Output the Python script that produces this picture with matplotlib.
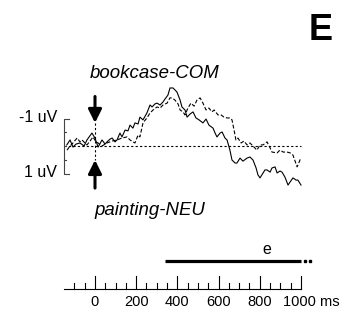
import matplotlib
matplotlib.use('Agg')
import matplotlib.pyplot as plt

# ERP waveforms (ms, uV; negative plotted up)
t_solid = [-137, -121, -107, -92, -73, -53, -39, -15, 0, 15, 34, 49, 58, 73, 83, 97, 107, 121, 131, 146,
           160, 170, 184, 194, 209, 218, 233, 252, 267, 277, 291, 301, 316, 330, 340, 354, 364, 379, 388, 398,
           413, 422, 437, 447, 461, 476, 490, 505, 524, 539, 553, 573, 583, 592, 607, 617, 631, 641, 655, 665,
           680, 689, 704, 718, 738, 752, 767, 782, 791, 801, 816, 825, 835, 850, 859, 874, 884, 898, 908, 922,
           937, 947, 961, 976, 985, 1000]
v_solid = [-0.04, -0.22, 0.04, -0.07, -0.11, 0.0, -0.22, -0.47, -0.29, 0.04, -0.22, -0.07, -0.15, -0.25, -0.29, -0.15, -0.22, -0.47, -0.33, -0.58,
           -0.55, -0.76, -0.65, -0.84, -0.80, -1.05, -0.95, -1.20, -1.49, -1.42, -1.53, -1.56, -1.49, -1.60, -1.71, -1.85, -2.11, -2.11, -2.04, -1.96,
           -1.67, -1.42, -1.31, -1.05, -1.16, -1.24, -1.02, -0.95, -0.84, -0.98, -0.76, -0.65, -0.47, -0.33, -0.47, -0.51, -0.29, -0.22, 0.15, 0.51,
           0.62, 0.62, 0.44, 0.55, 0.44, 0.40, 0.51, 0.80, 1.05, 1.16, 0.98, 0.87, 0.87, 0.95, 0.80, 0.76, 0.98, 0.91, 0.95, 1.13,
           1.42, 1.31, 1.16, 1.24, 1.24, 1.42]

t_dash = [-136, -121, -107, -87, -73, -63, -49, -39, -24, -10, 5, 15, 34, 58, 83, 107, 131, 155, 170, 184,
          194, 209, 218, 233, 252, 267, 282, 301, 316, 330, 350, 364, 374, 388, 403, 413, 427, 437, 451, 466,
          481, 495, 510, 524, 539, 553, 568, 578, 597, 612, 626, 641, 655, 665, 675, 684, 694, 709, 723, 738,
          752, 767, 786, 801, 816, 835, 850, 859, 884, 898, 913, 932, 947, 961, 981, 995, 1000]
v_dash = [0.15, 0.0, -0.11, -0.29, -0.15, -0.22, -0.11, -0.04, -0.18, -0.33, -0.15, -0.11, 0.0, -0.11, -0.18, -0.22, -0.29, -0.33, -0.22, -0.15,
          -0.11, -0.40, -0.33, -0.84, -1.02, -1.20, -1.31, -1.42, -1.38, -1.49, -1.56, -1.75, -1.75, -1.67, -1.53, -1.31, -1.24, -1.13, -1.38, -1.56,
          -1.45, -1.67, -1.75, -1.56, -1.31, -1.38, -1.24, -1.31, -1.13, -1.13, -1.05, -1.02, -1.02, -0.95, -0.58, -0.22, -0.29, -0.11, -0.18, -0.04,
          -0.11, 0.0, 0.15, -0.04, -0.04, -0.15, 0.07, 0.22, 0.25, 0.15, 0.22, 0.22, 0.25, 0.33, 0.76, 0.51, 0.44]

major_ticks = [0, 200, 400, 600, 800, 1000]
minor_ticks = [-100, -50, 50, 100, 150, 250, 300, 350, 450, 500, 550, 650, 700, 750, 850, 900, 950]
tick_labels = ['0', '200', '400', '600', '800', '1000 ms']
sig_start, sig_end = 340, 1000
sig_label = 'e'

W, H = 347, 319
fig = plt.figure(figsize=(W / 100, H / 100), dpi=100)

# time mapping: 0 ms at x=95 px, 0.206 px per ms
x0, pxms = 95, 0.206
xlim = ((0 - x0) / pxms, (W - x0) / pxms)
# amplitude mapping: 0 uV at y=146 px, 27.5 px per uV, negative up
y0, pxuv = 146, 27.5

ax = fig.add_axes([0, 0, 1, 1])
ax.set_xlim(*xlim)
ax.set_ylim((H - y0) / pxuv, (0 - y0) / pxuv)
ax.axis('off')

# second layer for the time scale (y in pixels)
ax2 = fig.add_axes([0, 0, 1, 1])
ax2.set_xlim(*xlim)
ax2.set_ylim(H, 0)
ax2.axis('off')

font = 'Liberation Sans'

# baseline
ax.plot([-150, 1000], [0, 0], color='black', lw=0.8, ls=(0, (2, 2)))
# waveforms
ax.plot(t_solid, v_solid, color='black', lw=0.8)
ax.plot(t_dash, v_dash, color='black', lw=0.8, ls=(0, (3.5, 1.8)))

# amplitude bracket
ax.plot([-125, -150, -150, -125], [-1, -1, 1, 1], color='#444444', lw=0.8)
for v in [-0.5, 0, 0.5]:
    ax.plot([-150, -140], [v, v], color='#444444', lw=0.8)
ax.text(-185, -1.05, '-1 uV', ha='right', va='center', fontsize=11.5, family=font)
ax.text(-185, 0.95, '1 uV', ha='right', va='center', fontsize=11.5, family=font)

# onset marker
ax.plot([0, 0], [-0.84, 0.51], color='black', lw=0.8, ls=(0, (2, 2)))
arrow = dict(arrowstyle='-|>,head_width=0.4,head_length=0.8', lw=2.2, color='black', shrinkA=0, shrinkB=0)
ax.annotate('', xy=(0, -0.84), xytext=(0, -1.8), arrowprops=arrow)
ax.annotate('', xy=(0, 0.51), xytext=(0, 1.53), arrowprops=arrow)
ax.text(291, -2.62, 'bookcase-COM', ha='center', va='center', fontsize=13.4, style='italic', family=font)
ax.text(267, 2.33, 'painting-NEU', ha='center', va='center', fontsize=13.4, style='italic', family=font)

# panel letter
fig.text(321 / W, 1 - 30 / H, 'E', ha='center', va='center', fontsize=26, fontweight='bold', family=font)

# significance bar
ax2.plot([sig_start, sig_end], [261, 261], color='black', lw=2.3, solid_capstyle='butt')
ax2.plot([1020, 1045], [261, 261], 's', color='black', ms=1.6)
ax2.text(835, 249, sig_label, ha='center', va='center', fontsize=11.5, family=font)

# time axis
ax2.plot([-150, 1000], [289, 289], color='black', lw=0.8)
for t in major_ticks:
    ax2.plot([t, t], [289, 276], color='black', lw=0.8)
for t in minor_ticks:
    ax2.plot([t, t], [289, 283], color='black', lw=0.8)
for t, lab in zip(major_ticks, tick_labels):
    if lab.endswith('ms'):
        ax2.text(t - 85, 302, lab, ha='left', va='center', fontsize=10.5, family=font)
    else:
        ax2.text(t, 302, lab, ha='center', va='center', fontsize=10.5, family=font)

fig.savefig('out.png', dpi=100)
